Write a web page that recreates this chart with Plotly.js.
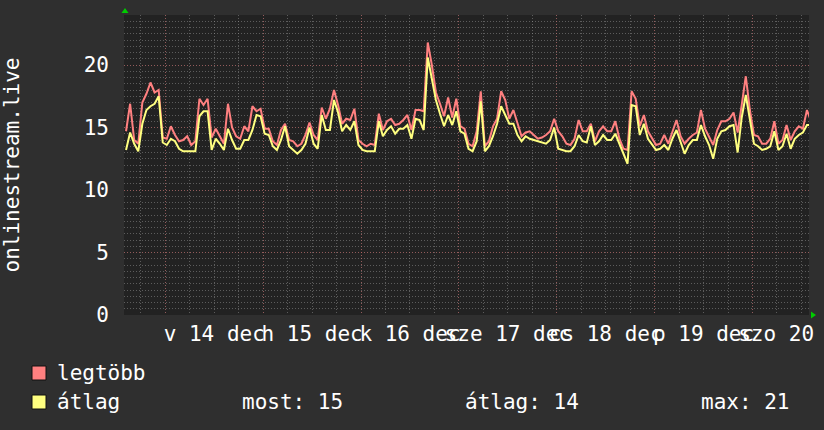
<!DOCTYPE html>
<html><head><meta charset="utf-8">
<script src="https://cdn.plot.ly/plotly-3.0.1.min.js"></script>
<style>html,body{margin:0;padding:0;background:#2f2f2f;}#chart{width:824px;height:430px;}</style>
</head><body><div id="chart"></div>
<script>
// ---- data ----
const rangeStart = '2025-12-13 13:52';
const rangeEnd = '2025-12-20 13:52';
const sampleStepMs = 3600 * 1000; // hourly samples
const maxValues = [
14.7,16.9,14.0,13.7,17.0,17.7,18.6,17.8,18.0,14.2,14.1,15.1,14.4,13.9,14.0,14.3,13.6,13.9,17.3,16.8,
17.3,14.2,14.9,14.3,13.7,16.9,15.0,14.3,14.1,15.1,14.7,16.7,16.3,16.5,14.9,14.9,13.9,13.6,14.8,15.3,
14.0,13.9,13.5,13.7,14.4,15.4,14.4,14.0,16.6,15.7,16.5,18.0,16.8,15.3,15.7,15.6,16.5,14.0,13.7,13.5,
13.7,13.6,16.1,14.8,15.5,15.7,15.2,15.3,15.6,16.0,14.8,16.4,16.4,16.3,21.8,20.0,17.8,16.9,15.9,17.4,
15.8,17.3,15.1,14.9,13.7,13.5,14.7,17.9,13.5,13.9,15.1,15.7,17.9,17.2,15.7,16.4,15.3,14.3,14.6,14.7,
14.4,14.1,14.2,14.4,14.7,15.7,14.7,14.3,13.7,13.6,14.1,15.6,14.7,14.7,15.3,13.9,14.7,15.1,14.7,14.7,
15.5,14.1,13.3,13.2,17.9,17.3,15.1,16.0,14.7,14.1,13.6,13.7,14.4,13.7,14.7,15.6,14.3,13.7,14.1,14.4,
14.6,16.4,14.9,14.3,13.6,14.8,15.5,15.5,15.7,16.2,14.6,16.8,19.1,16.4,14.4,14.3,13.7,13.7,14.1,15.5,
13.7,14.0,15.2,14.0,14.7,15.1,14.9,16.4,15.5];
const avgValues = [
13.2,14.6,13.7,13.1,15.3,16.4,16.7,16.9,17.5,13.8,13.6,14.1,13.9,13.3,13.1,13.1,13.1,13.1,15.9,16.3,
16.3,13.2,14.1,13.7,13.2,14.9,14.0,13.3,13.3,14.0,14.0,14.8,16.0,15.9,14.5,14.4,13.5,13.2,14.0,15.1,
13.5,13.2,12.9,13.2,13.7,15.0,13.7,13.3,16.0,14.8,14.8,17.2,16.2,14.7,15.2,14.8,15.5,13.6,13.2,13.1,
13.1,13.1,15.5,14.3,14.8,15.1,14.5,14.9,14.9,15.2,14.1,15.7,15.6,14.8,20.6,18.8,17.2,16.1,15.1,16.0,
15.2,16.3,14.7,14.5,13.3,13.1,13.9,17.1,13.1,13.5,14.3,15.3,16.7,16.0,15.3,15.3,14.4,13.9,14.3,14.1,
14.0,13.9,13.8,13.7,14.0,15.0,13.3,13.2,13.1,13.1,13.5,14.4,13.9,13.8,15.1,13.6,13.9,14.4,14.0,14.0,
14.5,13.7,12.9,12.1,16.8,16.7,14.4,15.3,14.1,13.6,13.2,13.3,13.6,13.2,14.1,14.8,13.9,12.9,13.6,14.0,
14.0,15.2,14.3,13.6,12.5,14.1,14.7,14.8,15.1,15.2,13.0,15.8,17.6,15.5,13.7,13.5,13.2,13.3,13.5,14.7,
13.2,13.5,14.5,13.3,14.1,14.4,14.6,15.2,15.2];
const dayTickDates = ['2025-12-14 12:00','2025-12-15 12:00','2025-12-16 12:00','2025-12-17 12:00',
  '2025-12-18 12:00','2025-12-19 12:00','2025-12-20 12:00'];
const dayTickLabels = ['v 14 dec','h 15 dec','k 16 dec','sze 17 dec','cs 18 dec','p 19 dec','szo 20 dec'];
const midnightDates = ['2025-12-14','2025-12-15','2025-12-16','2025-12-17','2025-12-18','2025-12-19','2025-12-20'];
const yTickVals = [0, 5, 10, 15, 20];
const seriesNames = ['legtöbb', 'átlag'];
const statNow = 15, statAvg = 14, statMax = 21;

// ---- build ----
const t0 = new Date(rangeStart.replace(' ', 'T') + 'Z').getTime();
const times = maxValues.map((_, i) => t0 + (i + 0.5) * sampleStepMs);

const W = 824, H = 430, L = 124, R = 15, T = 15, B = 115;
const pw = W - L - R, ph = H - T - B;
const px = x => (x - L) / pw;
const py = y => (H - B - y) / ph;

const FONT = 'DejaVu Sans Mono';
const RED = '#ff8080', YEL = '#ffff80';
const MINOR = 'rgba(150,150,150,0.5)';
const MAJOR = 'rgba(200,90,90,0.5)';
const DOTS = '1px,2px';

const traces = [
  {x: times, y: maxValues, type: 'scatter', mode: 'lines', line: {color: RED, width: 2, shape: 'linear'},
   name: seriesNames[0], hoverinfo: 'skip'},
  {x: times, y: avgValues, type: 'scatter', mode: 'lines', line: {color: YEL, width: 2, shape: 'linear'},
   name: seriesNames[1], hoverinfo: 'skip'},
  {x: [], y: [], xaxis: 'x2', type: 'scatter', mode: 'lines', showlegend: false, hoverinfo: 'skip'}
];

const annText = (x, y, text) => ({xref: 'paper', yref: 'paper', x: px(x), y: py(y), text: text,
  showarrow: false, xanchor: 'left', yanchor: 'middle', font: {family: FONT, size: 21, color: '#ffffff'}});

const layout = {
  width: W, height: H,
  margin: {l: L, r: R, t: T, b: B, pad: 0},
  paper_bgcolor: '#2f2f2f', plot_bgcolor: '#222222',
  showlegend: false,
  font: {family: FONT, size: 21, color: '#ffffff'},
  xaxis: {
    type: 'date', range: [rangeStart, rangeEnd], fixedrange: true,
    tickmode: 'array', tickvals: dayTickDates, ticktext: dayTickLabels, tickangle: 0,
    ticks: '', showgrid: false, zeroline: false, showline: false,
    ticklabelstandoff: 4, ticklabeloverflow: 'allow',
    tickfont: {family: FONT, size: 21, color: '#ffffff'},
    minor: {tickmode: 'linear', tick0: '2025-12-14', dtick: 6 * 3600 * 1000, showgrid: true,
            gridcolor: MINOR, griddash: DOTS, gridwidth: 1, ticks: ''}
  },
  xaxis2: {
    type: 'date', range: [rangeStart, rangeEnd], overlaying: 'x', anchor: 'y',
    tickmode: 'array', tickvals: midnightDates, showticklabels: false, ticks: '',
    showgrid: true, gridcolor: MAJOR, griddash: DOTS, gridwidth: 1, zeroline: false
  },
  yaxis: {
    range: [0, 24], fixedrange: true,
    tickmode: 'array', tickvals: yTickVals, ticks: '', ticklabelstandoff: 14,
    showgrid: true, gridcolor: MAJOR, griddash: DOTS, gridwidth: 1, zeroline: false,
    tickfont: {family: FONT, size: 21, color: '#ffffff'},
    minor: {tickmode: 'linear', tick0: 0, dtick: 0.5, showgrid: true, gridcolor: MINOR, griddash: DOTS, gridwidth: 1, ticks: ''},
    title: {text: 'onlinestream.live', font: {family: FONT, size: 21, color: '#ffffff'}, standoff: 58}
  },
  shapes: [
    {type: 'rect', xref: 'paper', yref: 'paper', x0: px(32), x1: px(46), y0: py(366), y1: py(380),
     fillcolor: RED, line: {color: '#111111', width: 1}},
    {type: 'rect', xref: 'paper', yref: 'paper', x0: px(32), x1: px(46), y0: py(395), y1: py(409),
     fillcolor: YEL, line: {color: '#111111', width: 1}},
    {type: 'path', xref: 'paper', yref: 'paper', fillcolor: '#00cc00', line: {width: 0},
     path: `M ${px(121.5)} ${py(13)} L ${px(128.5)} ${py(13)} L ${px(125)} ${py(8)} Z`},
    {type: 'path', xref: 'paper', yref: 'paper', fillcolor: '#00cc00', line: {width: 0},
     path: `M ${px(811)} ${py(311.5)} L ${px(811)} ${py(318.5)} L ${px(816)} ${py(315)} Z`}
  ],
  annotations: [
    annText(55, 373, seriesNames[0]),
    annText(55, 402, seriesNames[1]),
    annText(240, 402, 'most: ' + statNow),
    annText(463, 402, 'átlag: ' + statAvg),
    annText(699, 402, 'max: ' + statMax)
  ]
};

Plotly.newPlot('chart', traces, layout, {staticPlot: true, displayModeBar: false});
</script>
</body></html>
